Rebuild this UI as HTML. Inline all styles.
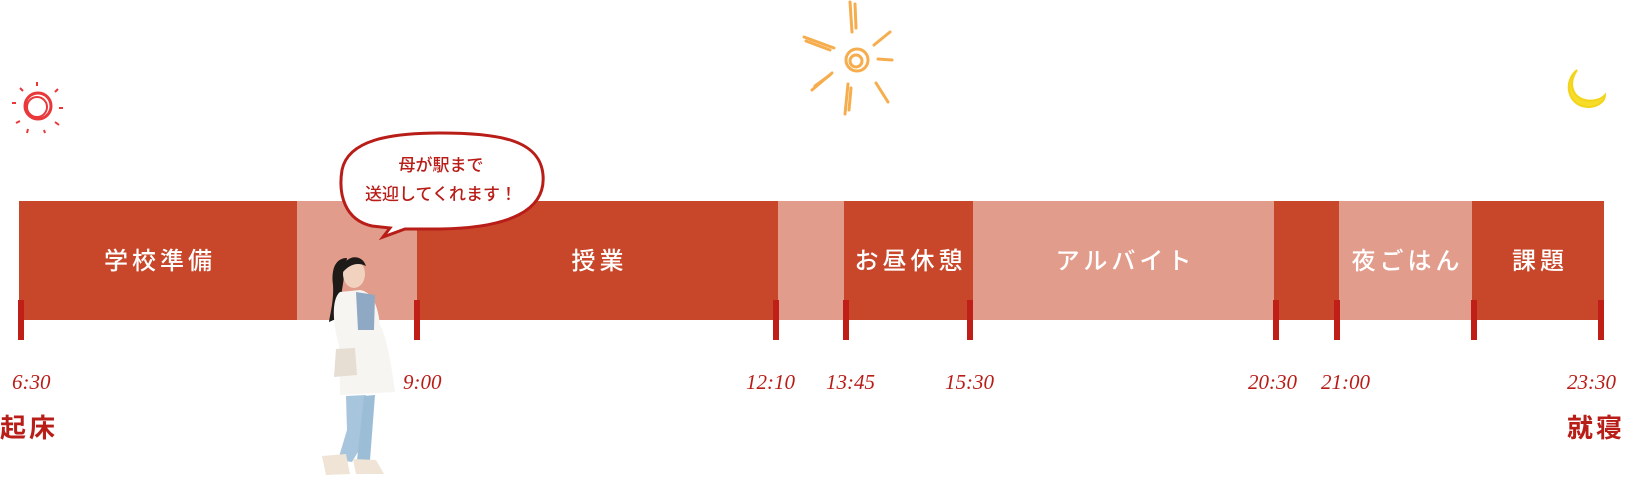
<!DOCTYPE html>
<html><head><meta charset="utf-8"><style>
html,body{margin:0;padding:0;background:#fff;}
#c{position:relative;width:1625px;height:485px;overflow:hidden;font-family:"Liberation Sans","Noto Sans CJK JP",sans-serif;}
.s{position:absolute;top:201px;height:119px;}
.d{background:#c8472a}.l{background:#e29c8c}
.lab{position:absolute;top:243px;color:#fff;font-size:24px;letter-spacing:4px;text-align:center;line-height:38px;font-weight:500}
.t{position:absolute;top:300px;width:6px;height:40px;background:#c01f17}
.tm{position:absolute;top:370px;font-family:"Liberation Serif",serif;font-style:italic;font-size:21px;color:#b81d18;}
.big{position:absolute;top:408px;font-size:26px;color:#b81d18;letter-spacing:3px;font-weight:bold}
</style></head><body><div id="c">
<div class="s d" style="left:19px;width:278px"></div>
<div class="s l" style="left:297px;width:120px"></div>
<div class="s d" style="left:417px;width:361px"></div>
<div class="s l" style="left:778px;width:66px"></div>
<div class="s d" style="left:844px;width:129px"></div>
<div class="s l" style="left:973px;width:301px"></div>
<div class="s d" style="left:1274px;width:65px"></div>
<div class="s l" style="left:1339px;width:133px"></div>
<div class="s d" style="left:1472px;width:132px"></div>

<div class="lab" style="left:19px;width:282px">学校準備</div>
<div class="lab" style="left:417px;width:365px">授業</div>
<div class="lab" style="left:844px;width:133px">お昼休憩</div>
<div class="lab" style="left:973px;width:305px">アルバイト</div>
<div class="lab" style="left:1339px;width:137px">夜ごはん</div>
<div class="lab" style="left:1472px;width:136px">課題</div>

<div class="t" style="left:18px"></div>
<div class="t" style="left:414px"></div>
<div class="t" style="left:773px"></div>
<div class="t" style="left:843px"></div>
<div class="t" style="left:967px"></div>
<div class="t" style="left:1273px"></div>
<div class="t" style="left:1334px"></div>
<div class="t" style="left:1471px"></div>
<div class="t" style="left:1598px"></div>

<div class="tm" style="left:12px">6:30</div>
<div class="tm" style="left:403px">9:00</div>
<div class="tm" style="left:746px">12:10</div>
<div class="tm" style="left:826px">13:45</div>
<div class="tm" style="left:945px">15:30</div>
<div class="tm" style="left:1248px">20:30</div>
<div class="tm" style="left:1321px">21:00</div>
<div class="tm" style="left:1567px">23:30</div>
<div class="big" style="left:0px">起床</div>
<div class="big" style="left:1567px">就寝</div>

<svg width="1625" height="485" style="position:absolute;left:0;top:0">
 <path d="M372,226 C345,220 338,195 342,170 C348,140 390,133 440,133 C500,133 540,140 543,175 C546,210 510,228 440,229 L405,229 L383,237 L390,228 Z" fill="#fff" stroke="#b81d18" stroke-width="3"/>
 <text x="441" y="171" font-size="17" fill="#b81d18" text-anchor="middle" font-family="Liberation Sans,Noto Sans CJK JP,sans-serif" font-weight="500">母が駅まで</text>
 <text x="441" y="200" font-size="17" fill="#b81d18" text-anchor="middle" font-family="Liberation Sans,Noto Sans CJK JP,sans-serif" font-weight="500">送迎してくれます！</text>
 <g stroke="#e8383a" fill="none" stroke-width="2">
  <circle cx="38" cy="106" r="13" stroke-width="3"/>
  <circle cx="37" cy="107" r="10"/>
  <line x1="37" y1="82" x2="37" y2="86"/><line x1="20" y1="88" x2="23" y2="91"/><line x1="55" y1="92" x2="58" y2="89"/>
  <line x1="12" y1="103" x2="16" y2="103"/><line x1="59" y1="108" x2="63" y2="108"/><line x1="16" y1="123" x2="20" y2="121"/>
  <line x1="55" y1="122" x2="59" y2="125"/><line x1="28" y1="129" x2="27" y2="133"/><line x1="44" y1="130" x2="45" y2="133"/>
 </g>
 <g stroke="#f6ad4e" fill="none" stroke-width="3" stroke-linecap="round">
  <circle cx="857" cy="60" r="11"/><circle cx="856" cy="61" r="6"/>
  <line x1="850" y1="2" x2="852" y2="32"/><line x1="855" y1="4" x2="856" y2="28"/>
  <line x1="804" y1="37" x2="834" y2="48"/><line x1="806" y1="41" x2="830" y2="50"/>
  <line x1="874" y1="45" x2="890" y2="32"/><line x1="878" y1="59" x2="892" y2="60"/>
  <line x1="812" y1="90" x2="832" y2="73"/><line x1="815" y1="86" x2="830" y2="75"/>
  <line x1="848" y1="84" x2="845" y2="114"/><line x1="851" y1="88" x2="849" y2="110"/>
  <line x1="876" y1="83" x2="888" y2="102"/>
 </g>
 <path d="M1577,70 C1562,82 1568,108 1590,107 C1600,106 1605,100 1605,95 C1598,103 1580,103 1574,92 C1570,84 1573,76 1577,70 Z" fill="#f7dd2a" stroke="#f2d41a" stroke-width="2"/>
 <g>
  <path d="M347,258 C335,258 331,270 333,285 C334,300 330,315 329,322 L338,318 L342,290 Z" fill="#1e1a18"/>
  <ellipse cx="354" cy="274" rx="11" ry="14" fill="#f1d2bf"/>
  <path d="M343,268 C345,255 362,253 366,266 C358,262 350,264 343,272 Z" fill="#1e1a18"/>
  <path d="M340,292 C330,300 334,330 339,345 L340,395 L395,392 C392,370 388,340 380,325 C378,305 372,292 360,290 Z" fill="#f7f5f2"/>
  <path d="M356,292 L375,295 L374,330 L358,330 Z" fill="#8fa8c4"/>
  <path d="M336,349 L355,348 L357,375 L334,377 Z" fill="#e6ddd3"/>
  <path d="M346,396 L366,395 L365,440 L352,462 L338,460 L347,430 Z" fill="#a7c5dc"/>
  <path d="M364,396 L375,395 L370,460 L357,460 Z" fill="#9cbdd6"/>
  <path d="M322,456 L346,454 L350,474 L326,475 Z" fill="#efe4d6"/>
  <path d="M353,459 L376,460 L384,474 L356,474 Z" fill="#efe4d6"/>
 </g>
</svg>
</div></body></html>
